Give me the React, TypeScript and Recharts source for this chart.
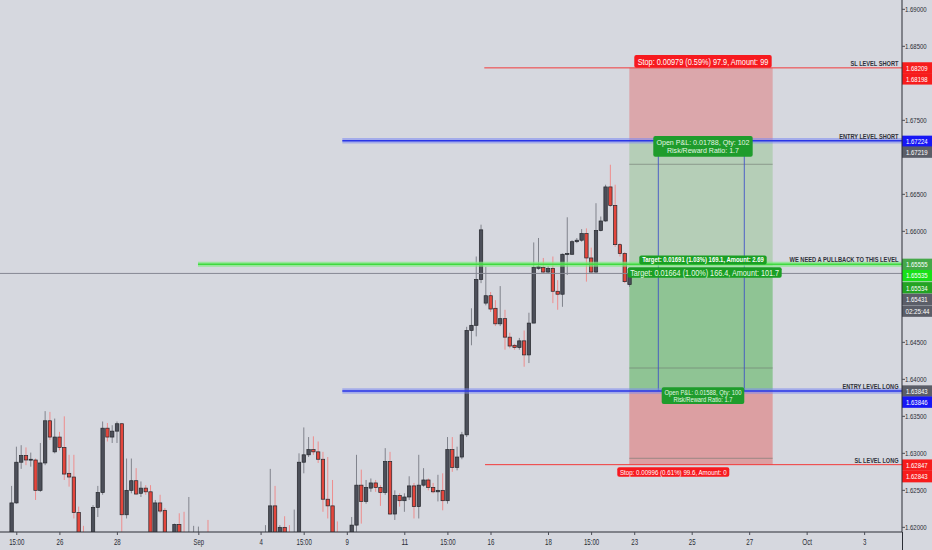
import React from 'react';
import { ComposedChart, Bar, XAxis, YAxis, ReferenceLine, ReferenceArea } from 'recharts';

const FONT = '"Liberation Sans", Arial, sans-serif';

// ---------- candles (4h bars, index 1..130) ----------
const candleIdx = [
  1,2,3,4,5,6,7,8,9,10,11,12,13,14,15,16,17,18,19,20,21,22,23,24,25,26,27,28,29,30,
  31,32,33,34,35,36,37,38,39,40,41,42,43,44,45,46,47,48,49,50,51,52,53,54,55,56,57,58,59,60,
  61,62,63,64,65,66,67,68,69,70,71,72,73,74,75,76,77,78,79,80,81,82,83,84,85,86,87,88,89,90,
  91,92,93,94,95,96,97,98,99,100,101,102,103,104,105,106,107,108,109,110,111,112,113,114,115,
  116,117,118,119,120,121,122,123,124,125,126,127,128,129,130,
];
const opens = [
  1.6175,1.6233,1.6288,1.6297,1.6291,1.6291,1.6250,1.6287,1.6344,1.6302,
  1.6322,1.6308,1.6273,1.6268,1.6220,1.6180,1.6168,1.6175,1.6227,1.6247,
  1.6334,1.6322,1.6330,1.6340,1.6217,1.6250,1.6263,1.6246,1.6253,1.6248,
  1.6185,1.6233,1.6223,1.6172,1.6178,1.6204,1.6188,1.6180,1.6185,1.6183,
  1.6189,1.6180,1.6172,1.6128,1.6095,1.6072,1.6082,1.6060,1.6068,1.6098,
  1.6122,1.6140,1.6160,1.6172,1.6185,1.6229,1.6182,1.6200,1.6188,1.6180,
  1.6190,1.6288,1.6298,1.6305,1.6302,1.6292,1.6238,1.6229,1.6180,1.6172,
  1.6165,1.6182,1.6203,1.6257,1.6235,1.6253,1.6260,1.6254,1.6247,1.6289,
  1.6218,1.6243,1.6236,1.6241,1.6256,1.6228,1.6257,1.6264,1.6254,1.6248,
  1.6250,1.6236,1.6305,1.6281,1.6295,1.6325,1.6466,1.6473,1.6535,1.6503,
  1.6513,1.6496,1.6475,1.6482,1.6457,1.6446,1.6443,1.6452,1.6433,1.6476,
  1.6550,1.6551,1.6545,1.6550,1.6519,1.6515,1.6569,1.6569,1.6586,1.6588,
  1.6597,1.6564,1.6545,1.6601,1.6614,1.6660,1.6635,1.6582,1.6570,1.6528,
];
const highs = [
  1.6256,1.6309,1.6311,1.6308,1.6301,1.6293,1.6314,1.6357,1.6356,1.6347,
  1.6329,1.6350,1.6298,1.6298,1.6228,1.6202,1.6188,1.6230,1.6256,1.6343,
  1.6341,1.6338,1.6343,1.6341,1.6293,1.6293,1.6280,1.6262,1.6257,1.6257,
  1.6237,1.6244,1.6226,1.6185,1.6205,1.6219,1.6221,1.6241,1.6202,1.6201,
  1.6192,1.6210,1.6178,1.6140,1.6110,1.6090,1.6098,1.6075,1.6105,1.6130,
  1.6150,1.6168,1.6185,1.6203,1.6279,1.6256,1.6203,1.6215,1.6203,1.6224,
  1.6300,1.6335,1.6322,1.6323,1.6316,1.6302,1.6295,1.6264,1.6208,1.6185,
  1.6190,1.6214,1.6298,1.6278,1.6264,1.6266,1.6264,1.6257,1.6307,1.6302,
  1.6250,1.6246,1.6246,1.6269,1.6260,1.6298,1.6280,1.6266,1.6260,1.6271,
  1.6273,1.6322,1.6322,1.6309,1.6329,1.6471,1.6496,1.6566,1.6609,1.6552,
  1.6518,1.6507,1.6526,1.6494,1.6463,1.6448,1.6456,1.6466,1.6490,1.6585,
  1.6591,1.6564,1.6553,1.6566,1.6534,1.6570,1.6619,1.6588,1.6591,1.6603,
  1.6604,1.6578,1.6638,1.6620,1.6663,1.6690,1.6663,1.6584,1.6572,1.6548,
];
const lows = [
  1.6168,1.6232,1.6279,1.6284,1.6282,1.6237,1.6248,1.6284,1.6318,1.6300,
  1.6304,1.6264,1.6255,1.6212,1.6172,1.6160,1.6155,1.6170,1.6214,1.6244,
  1.6316,1.6314,1.6314,1.6194,1.6212,1.6246,1.6244,1.6241,1.6244,1.6175,
  1.6180,1.6219,1.6165,1.6160,1.6170,1.6180,1.6172,1.6175,1.6172,1.6175,
  1.6170,1.6168,1.6120,1.6085,1.6060,1.6045,1.6050,1.6030,1.6062,1.6090,
  1.6110,1.6128,1.6150,1.6165,1.6180,1.6175,1.6178,1.6180,1.6172,1.6175,
  1.6185,1.6273,1.6295,1.6298,1.6287,1.6221,1.6212,1.6170,1.6165,1.6155,
  1.6160,1.6178,1.6194,1.6205,1.6232,1.6248,1.6248,1.6229,1.6244,1.6217,
  1.6210,1.6228,1.6221,1.6237,1.6212,1.6212,1.6255,1.6250,1.6246,1.6235,
  1.6223,1.6232,1.6275,1.6277,1.6292,1.6322,1.6446,1.6458,1.6530,1.6500,
  1.6491,1.6472,1.6472,1.6440,1.6442,1.6440,1.6440,1.6417,1.6422,1.6476,
  1.6548,1.6543,1.6543,1.6503,1.6494,1.6498,1.6541,1.6568,1.6584,1.6586,
  1.6532,1.6543,1.6543,1.6600,1.6613,1.6633,1.6579,1.6566,1.6530,1.6525,
];
const closes = [
  1.6233,1.6288,1.6297,1.6291,1.6292,1.6250,1.6287,1.6344,1.6322,1.6322,
  1.6308,1.6272,1.6268,1.6220,1.6180,1.6168,1.6175,1.6227,1.6247,1.6334,
  1.6322,1.6330,1.6340,1.6217,1.6250,1.6263,1.6245,1.6253,1.6248,1.6185,
  1.6233,1.6222,1.6172,1.6178,1.6204,1.6188,1.6180,1.6190,1.6190,1.6189,
  1.6176,1.6172,1.6128,1.6095,1.6072,1.6082,1.6060,1.6068,1.6098,1.6122,
  1.6140,1.6160,1.6172,1.6185,1.6229,1.6182,1.6200,1.6188,1.6180,1.6190,
  1.6288,1.6298,1.6305,1.6302,1.6292,1.6238,1.6229,1.6180,1.6172,1.6165,
  1.6182,1.6203,1.6257,1.6235,1.6254,1.6260,1.6254,1.6247,1.6289,1.6218,
  1.6243,1.6236,1.6241,1.6256,1.6228,1.6257,1.6264,1.6254,1.6248,1.6250,
  1.6236,1.6305,1.6281,1.6295,1.6325,1.6466,1.6473,1.6535,1.6602,1.6513,
  1.6495,1.6475,1.6482,1.6457,1.6445,1.6443,1.6452,1.6433,1.6476,1.6551,
  1.6552,1.6545,1.6550,1.6519,1.6515,1.6569,1.6570,1.6586,1.6588,1.6597,
  1.6564,1.6545,1.6601,1.6614,1.6660,1.6635,1.6582,1.6570,1.6532,1.65431,
];

// ---------- axes ----------
const timeTickIdx = [2, 11, 23, 40, 53, 62, 71, 83, 92, 101, 113, 122, 131, 143, 155, 167, 179];
const timeTickLabels = ['15:00', '26', '28', 'Sep', '4', '15:00', '9', '11', '15:00', '16', '18', '15:00', '23', '25', '27', 'Oct', '3'];
const priceTicks = [1.62, 1.625, 1.63, 1.635, 1.64, 1.645, 1.66, 1.665, 1.675, 1.685, 1.69];
const xDomain = [-1.505, 186.8];
const yDomain = [1.61937, 1.69126];

// ---------- drawings ----------
const levelNames = ['SL LEVEL SHORT', 'ENTRY LEVEL SHORT', 'WE NEED A PULLBACK TO THIS LEVEL', 'ENTRY LEVEL LONG', 'SL LEVEL LONG'];
const levelPrices = [1.68209, 1.67224, 1.65555, 1.63843, 1.62847];
const levelStarts = [99.6, 69.96, 39.83, 69.96, 99.75];
const levelKinds = ['sl', 'entry', 'pull', 'entry', 'sl'];
const levelTextWidths = [48, 59.3, 109, 56, 44];
const lastPrice = 1.65431;

const toolStart = 129.87;
const toolEnd = 159.8;
const shortStop = 1.68209;
const shortEntry = 1.67224;
const shortTarget = 1.65533;
const longTarget = 1.65507;
const longEntry = 1.63843;
const longStop = 1.62847;
const pathLines = [1.66906, 1.64153, 1.62933];
const pathX = [135.93, 153.88];

const boxPrices = [shortStop, shortEntry, shortTarget, longTarget, longEntry, longStop];
const boxTexts = [
  ['Stop: 0.00979 (0.59%) 97.9, Amount: 99'],
  ['Open P&L: 0.01788, Qty: 102', 'Risk/Reward Ratio: 1.7'],
  ['Target: 0.01691 (1.03%) 169.1, Amount: 2.69'],
  ['Target: 0.01664 (1.00%) 166.4, Amount: 101.7'],
  ['Open P&L: 0.01588, Qty: 100', 'Risk/Reward Ratio: 1.7'],
  ['Stop: 0.00996 (0.61%) 99.6, Amount: 0'],
];
const boxStyle = [
  { bx: 2, by: -12.8, bw: 137.4, bh: 12.7, bbg: '#f71a1f', bfg: '#ffffff', bfs: 9, bbold: false, btw: [130.7], bly: [9.6] },
  { bx: 2, by: -4.7, bw: 99.4, bh: 20.7, bbg: '#1f9c2c', bfg: '#e3f7e3', bfs: 7.6, bbold: false, btw: [93, 72], bly: [8.8, 17] },
  { bx: 2, by: -10.4, bw: 127.4, bh: 9, bbg: '#1a9f24', bfg: '#ffffff', bfs: 7, bbold: true, btw: [121.7], bly: [7] },
  { bx: 3.7, by: -0.5, bw: 154, bh: 10.4, bbg: '#1a9f24', bfg: '#e8fae8', bfs: 9, bbold: false, btw: [149], bly: [8.4] },
  { bx: 2, by: -3.6, bw: 82.6, bh: 16.7, bbg: '#1f9c2c', bfg: '#e3f7e3', bfs: 6.6, bbold: false, btw: [77, 59], bly: [7.4, 14.5] },
  { bx: -27.7, by: 2.7, bw: 112, bh: 9.4, bbg: '#f71a1f', bfg: '#ffffff', bfs: 7, bbold: false, btw: [106.7], bly: [7.3] },
];

const tagPrices = [1.68209, 1.68198, 1.67224, 1.67219, 1.65555, 1.65535, 1.65534, 1.65431, 1.65431, 1.63843, 1.63846, 1.62847, 1.62843];
const tagTexts = ['1.68209', '1.68198', '1.67224', '1.67219', '1.65555', '1.65535', '1.65534', '1.65431', '02:25:44', '1.63843', '1.63846', '1.62847', '1.62843'];
const tagBg = ['#f71c1c', '#f71c1c', '#1717f5', '#5b5e68', '#45a849', '#18e018', '#23a323', '#5b5e68', '#5b5e68', '#5b5e68', '#1717f5', '#f71c1c', '#f71c1c'];
const tagShift = [0, 10.1, 0.5, 10.9, 0, 9.8, 21.9, 25.9, 37.6, 0, 11.3, 0.4, 11.6];

const data = candleIdx.map((i, k) => ({ i, o: opens[k], h: highs[k], l: lows[k], c: closes[k] }));

// ---------- renderers ----------
const Candle = (p: any) => {
  const { x, y, width, height, payload } = p;
  if (x == null || y == null || !payload) return null;
  const { o, h, l, c } = payload;
  const top = Math.min(y, y + height);
  const hh = Math.abs(height);
  const ppu = h - l > 0 ? hh / (h - l) : 0;
  const up = c >= o;
  const bt = top + (h - Math.max(o, c)) * ppu;
  const bb = top + (h - Math.min(o, c)) * ppu;
  const cx = x + width / 2;
  return (
    <g>
      <line x1={cx} x2={cx} y1={top} y2={top + hh} stroke={up ? '#80838c' : '#ee8d8d'} strokeWidth={1} />
      <rect x={cx - 1.7} y={bt} width={3.4} height={Math.max(bb - bt, 0.9)} fill={up ? '#4c4f59' : '#e4463c'} stroke="#25272d" strokeWidth={0.7} />
    </g>
  );
};

const PriceTick = (p: any) => {
  const { x, y, payload } = p;
  return (
    <text x={x} y={y + 2.8} textAnchor="start" fontSize={7.4} fill="#2a2d35" fontFamily={FONT} textLength={21.7} lengthAdjust="spacingAndGlyphs">
      {Number(payload.value).toFixed(5)}
    </text>
  );
};

const charW = (s: string) => s.split('').reduce((a, ch) => a + (ch === ':' ? 1.7 : /[0-9]/.test(ch) ? 3.4 : ch === 'O' ? 4.2 : ch === 't' ? 2.2 : 3.5), 0);

const TimeTick = (p: any) => {
  const { x, y, payload } = p;
  const k = timeTickIdx.indexOf(payload.value);
  const label = k >= 0 ? timeTickLabels[k] : '';
  return (
    <text x={x} y={y + 8} textAnchor="middle" fontSize={8.5} fill="#2a2d35" fontFamily={FONT} textLength={charW(label)} lengthAdjust="spacingAndGlyphs">
      {label}
    </text>
  );
};

const PriceTag = (p: any) => {
  const vb = p.viewBox;
  if (!vb) return null;
  const cy = vb.y + (p.tshift || 0);
  const x0 = vb.x + vb.width;
  const long = p.ttext.length > 7;
  return (
    <g>
      <rect x={x0} y={cy - 5.6} width={30} height={11.4} fill={p.tbg} />
      <text x={x0 + (long ? 3.5 : 4)} y={cy + 2.8} fill="#ffffff" fontSize={long ? 6.8 : 7.4} fontFamily={FONT} textLength={long ? 24 : 21.7} lengthAdjust="spacingAndGlyphs">
        {p.ttext}
      </text>
    </g>
  );
};

const LevelText = (p: any) => {
  const vb = p.viewBox;
  if (!vb) return null;
  return (
    <text x={vb.x + vb.width - 3.5 - p.ltw} y={vb.y - 1.8} textAnchor="start" fontSize={6.6} fontWeight="bold" fill="#30323a" fontFamily={FONT} textLength={p.ltw} lengthAdjust="spacingAndGlyphs">
      {p.ltext}
    </text>
  );
};

const BoxLabel = (p: any) => {
  const vb = p.viewBox;
  if (!vb) return null;
  const cx = vb.x + vb.width / 2 + p.bx;
  const top = vb.y + p.by;
  return (
    <g>
      <rect x={cx - p.bw / 2} y={top} width={p.bw} height={p.bh} rx={2} fill={p.bbg} />
      {p.blines.map((t: string, k: number) => (
        <text key={k} x={cx} y={top + p.bly[k]} textAnchor="middle" fontSize={p.bfs} fontWeight={p.bbold ? 'bold' : 'normal'} fill={p.bfg} fontFamily={FONT} textLength={p.btw[k]} lengthAdjust="spacingAndGlyphs">
          {t}
        </text>
      ))}
    </g>
  );
};

export default function App() {
  return (
    <div style={{ position: 'absolute', left: 0, top: 0, width: 932, height: 550, background: '#d6d8df', overflow: 'hidden' }}>
      <ComposedChart width={932} height={550} data={data} margin={{ top: 0, right: 0, bottom: 0, left: 0 }}>
        <XAxis
          dataKey="i"
          type="number"
          domain={xDomain}
          allowDataOverflow
          ticks={timeTickIdx}
          interval={0}
          tick={(p: any) => <TimeTick {...p} />}
          tickSize={3}
          tickLine={{ stroke: '#4a4d56' }}
          axisLine={{ stroke: '#2a2d35' }}
          height={18}
        />
        <YAxis
          orientation="right"
          type="number"
          domain={yDomain}
          allowDataOverflow
          ticks={priceTicks}
          interval={0}
          tick={(p: any) => <PriceTick {...p} />}
          tickSize={3}
          tickMargin={0}
          tickLine={{ stroke: '#4a4d56' }}
          axisLine={{ stroke: '#2a2d35' }}
          width={30}
        />

        {/* position tool zones */}
        <ReferenceArea x1={toolStart} x2={toolEnd} y1={shortEntry} y2={shortStop} fill="#dba7ab" fillOpacity={1} stroke="none" ifOverflow="visible" />
        <ReferenceArea x1={toolStart} x2={toolEnd} y1={shortTarget} y2={shortEntry} fill="#b5ceb7" fillOpacity={1} stroke="none" ifOverflow="visible" />
        <ReferenceArea x1={toolStart} x2={toolEnd} y1={longEntry} y2={longTarget} fill="#8fc494" fillOpacity={1} stroke="none" ifOverflow="visible" />
        <ReferenceArea x1={toolStart} x2={toolEnd} y1={longStop} y2={longEntry} fill="#dc9fa2" fillOpacity={1} stroke="none" ifOverflow="visible" />
        {pathLines.map((pr, k) => (
          <ReferenceLine key={'pl' + k} segment={[{ x: toolStart, y: pr }, { x: toolEnd, y: pr }]} stroke="#6f7870" strokeOpacity={0.6} strokeWidth={1} ifOverflow="visible" />
        ))}
        {pathX.map((xx, k) => (
          <ReferenceLine key={'px' + k} segment={[{ x: xx, y: shortEntry }, { x: xx, y: longEntry }]} stroke="#3d4fc8" strokeOpacity={0.85} strokeWidth={1} ifOverflow="visible" />
        ))}

        <Bar dataKey={(d: any) => [d.l, d.h]} barSize={4} isAnimationActive={false} shape={(p: any) => <Candle {...p} />} />

        {/* last price line */}
        <ReferenceLine y={lastPrice} stroke="#868993" strokeWidth={1} ifOverflow="visible" />

        {/* level lines with glow */}
        {levelPrices.map((pr, k) => {
          if (levelKinds[k] !== 'sl') return null;
          const seg = [{ x: levelStarts[k], y: pr }, { x: xDomain[1], y: pr }];
          return <ReferenceLine key={'lv' + k} segment={seg} stroke="#f23a3a" strokeWidth={1} ifOverflow="visible" label={<LevelText ltext={levelNames[k]} ltw={levelTextWidths[k]} />} />;
        })}
        {levelPrices.map((pr, k) => {
          const kind = levelKinds[k];
          if (kind === 'sl') return null;
          const seg = [{ x: levelStarts[k], y: pr }, { x: xDomain[1], y: pr }];
          return (
            <ReferenceLine key={'halo' + k} segment={seg} stroke={kind === 'entry' ? '#7c88f2' : '#7fec7f'} strokeOpacity={kind === 'entry' ? 0.55 : 0.7} strokeWidth={kind === 'entry' ? 5.5 : 5} ifOverflow="visible" />
          );
        })}
        {levelPrices.map((pr, k) => {
          const kind = levelKinds[k];
          if (kind === 'sl') return null;
          const seg = [{ x: levelStarts[k], y: pr }, { x: xDomain[1], y: pr }];
          return (
            <ReferenceLine key={'core' + k} segment={seg} stroke={kind === 'entry' ? '#2a36e6' : '#3fd93f'} strokeWidth={1.5} ifOverflow="visible" label={<LevelText ltext={levelNames[k]} ltw={levelTextWidths[k]} />} />
          );
        })}

        {/* position tool labels, drawn above the level lines */}
        {boxPrices.map((pr, k) => (
          <ReferenceLine key={'box' + k} segment={[{ x: toolStart, y: pr }, { x: toolEnd, y: pr }]} stroke="none" strokeOpacity={0} ifOverflow="visible"
            label={<BoxLabel blines={boxTexts[k]} {...boxStyle[k]} />} />
        ))}

        {/* price scale tags */}
        {tagPrices.map((pr, k) => (
          <ReferenceLine key={'tag' + k} y={pr} stroke="none" strokeOpacity={0} ifOverflow="visible"
            label={<PriceTag ttext={tagTexts[k]} tbg={tagBg[k]} tshift={tagShift[k]} />} />
        ))}
      </ComposedChart>
      <div style={{ position: 'absolute', left: 901.5, top: 532, width: 1, height: 18, background: '#2a2d35' }} />
    </div>
  );
}
